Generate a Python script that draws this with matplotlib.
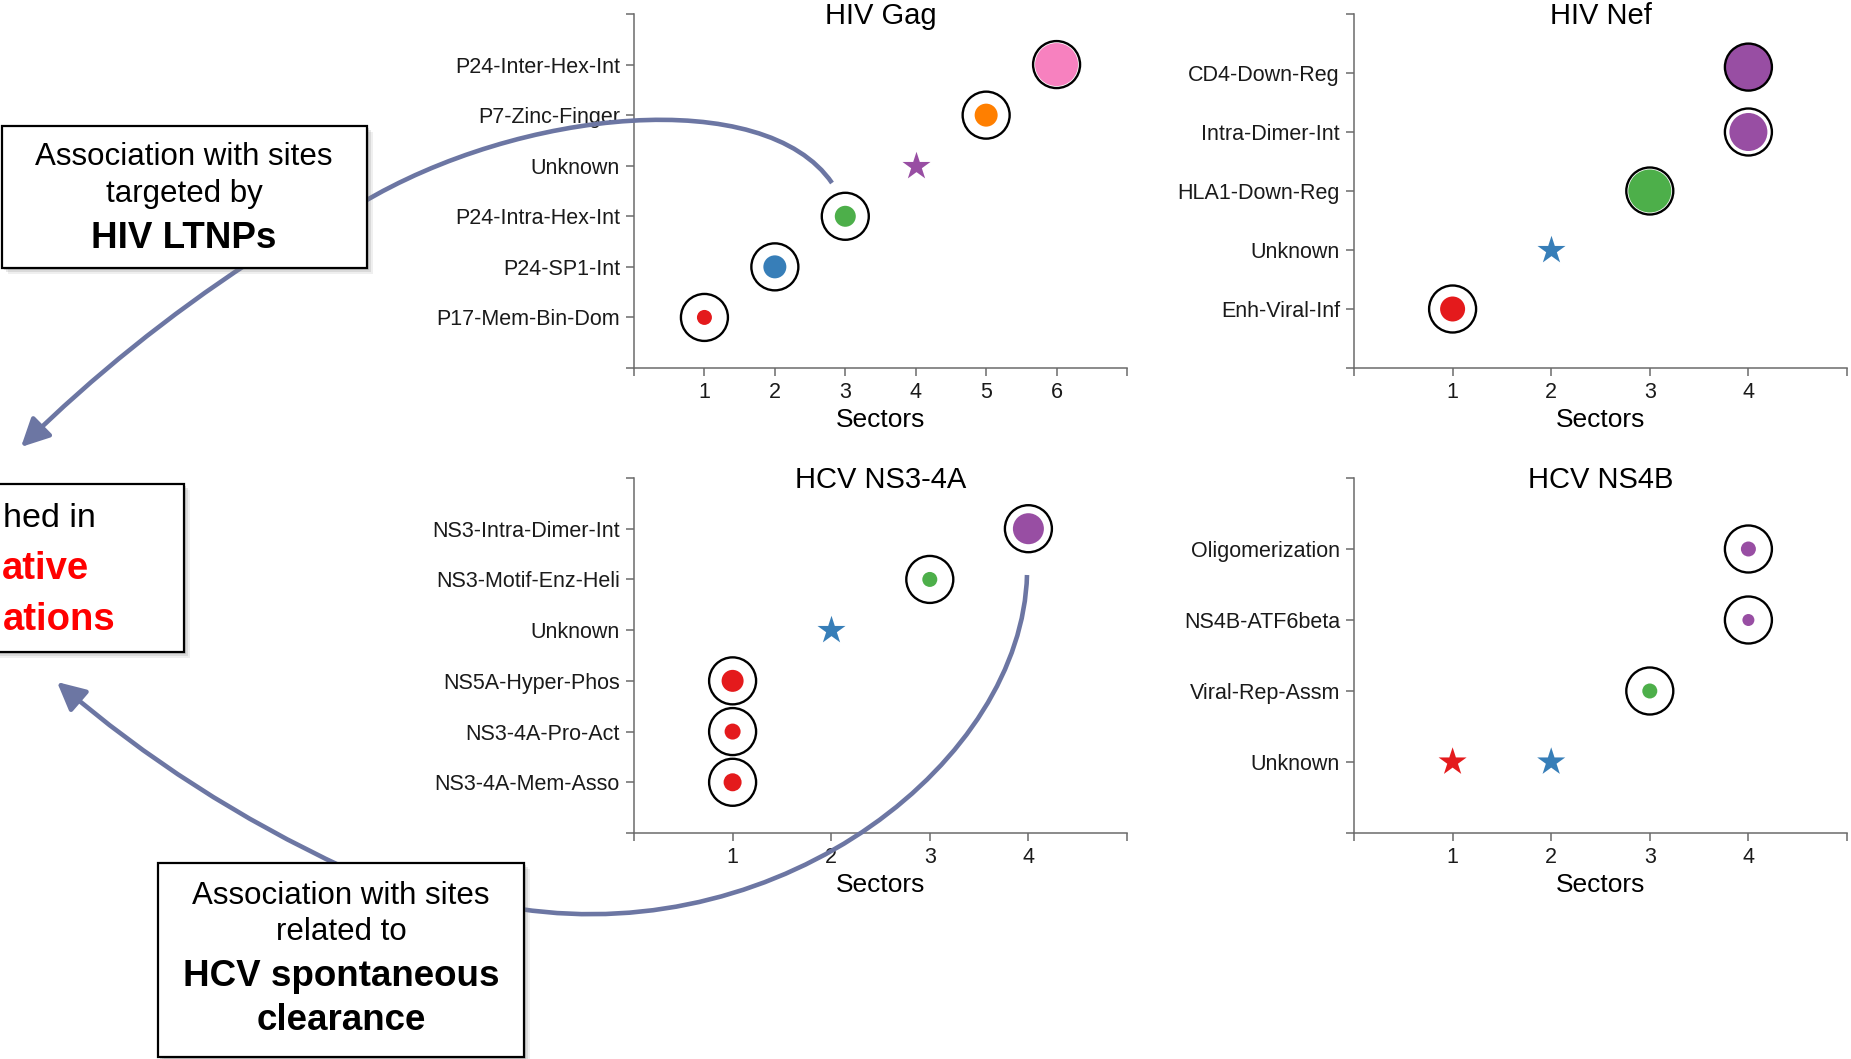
import numpy as np
import matplotlib
matplotlib.use('Agg')
import matplotlib.pyplot as plt
from matplotlib.path import Path
from matplotlib.patches import PathPatch, FancyArrowPatch, Rectangle
from matplotlib.transforms import Affine2D

plt.rcParams['font.family'] = ['Liberation Sans', 'DejaVu Sans']

# colores por sector
sector_colors = ['#e41a1c', '#377eb8', '#4daf4a', '#984ea3', '#ff7f00', '#f781bf']

# HIV Gag
gag_labels = ['P17-Mem-Bin-Dom', 'P24-SP1-Int', 'P24-Intra-Hex-Int', 'Unknown',
              'P7-Zinc-Finger', 'P24-Inter-Hex-Int']
gag_x = [1, 2, 3, 4, 5, 6]
gag_y = [1, 2, 3, 4, 5, 6]
gag_dot = [15, 23, 21, 0, 23, 43]

# HIV Nef
nef_labels = ['Enh-Viral-Inf', 'Unknown', 'HLA1-Down-Reg', 'Intra-Dimer-Int', 'CD4-Down-Reg']
nef_x = [1, 2, 3, 4, 4]
nef_y = [1, 2, 3, 4, 5.1]
nef_dot = [25, 0, 43, 38, 47]

# HCV NS3-4A
ns3_labels = ['NS3-4A-Mem-Asso', 'NS3-4A-Pro-Act', 'NS5A-Hyper-Phos', 'Unknown',
              'NS3-Motif-Enz-Heli', 'NS3-Intra-Dimer-Int']
ns3_x = [1, 1, 1, 2, 3, 4]
ns3_y = [1, 2, 3, 4, 5, 6]
ns3_dot = [18, 16, 22, 0, 15, 31]

# HCV NS4B
ns4b_labels = ['Unknown', 'Viral-Rep-Assm', 'NS4B-ATF6beta', 'Oligomerization']
ns4b_x = [1, 2, 3, 4, 4]
ns4b_y = [1, 1, 2, 3, 4]
ns4b_dot = [0, 0, 15, 12, 15]

W, H = 1851, 1059
fig = plt.figure(figsize=(W / 100, H / 100), dpi=100)
# coordenadas en pixeles (origen arriba a la izquierda)
px = Affine2D().scale(1.0 / W, -1.0 / H).translate(0, 1) + fig.transFigure

axcol = '#6b6b6b'
ring_s = (47 * 0.72) ** 2


def panel(box, title, labels, xs, ys, dots):
    l, t, r, b = box
    ax = fig.add_axes([l / W, 1 - b / H, (r - l) / W, (b - t) / H])
    nsec = max(xs)
    ax.set_xlim(0, nsec + 1)
    ax.set_ylim(0, len(labels) + 1)
    ax.set_xticks(range(0, nsec + 2))
    ax.set_xticklabels([''] + [str(i) for i in range(1, nsec + 1)] + [''])
    ax.set_yticks(range(0, len(labels) + 2))
    ax.set_yticklabels([''] + labels + [''])
    ax.spines['top'].set_visible(False)
    ax.spines['right'].set_visible(False)
    for s in ['left', 'bottom']:
        ax.spines[s].set_color(axcol)
        ax.spines[s].set_linewidth(1.1)
    ax.tick_params(length=5.8, width=1.1, color=axcol, pad=4.3,
                   labelsize=15.5, labelcolor='#1a1a1a')
    ax.patch.set_alpha(0)

    xs = np.array(xs)
    ys = np.array(ys)
    dots = np.array(dots)
    cols = np.array([sector_colors[x - 1] for x in xs])
    star = np.array([labels[int(round(y)) - 1] == 'Unknown' for y in ys])
    c = ~star
    ax.scatter(xs[c], ys[c], s=ring_s, facecolor='white', edgecolor='none',
               zorder=2, clip_on=False)
    ax.scatter(xs[c], ys[c], s=(dots[c] * 0.72) ** 2, c=cols[c], linewidths=0,
               zorder=3, clip_on=False)
    ax.scatter(xs[c], ys[c], s=ring_s, facecolor='none', edgecolor='black',
               linewidths=1.7, zorder=4, clip_on=False)
    ax.scatter(xs[star], ys[star], s=450, marker='*', c=cols[star], linewidths=0,
               zorder=3, clip_on=False)

    ax.annotate(title, xy=(0.5, 1.0), xycoords='axes fraction',
                xytext=(0, -2 * 0.72), textcoords='offset points',
                ha='center', va='center', fontsize=21)
    ax.annotate('Sectors', xy=(0.5, 0), xycoords='axes fraction',
                xytext=(0, -52 * 0.72), textcoords='offset points',
                ha='center', va='center', fontsize=19)
    return ax


panel((634, 14, 1127, 368), 'HIV Gag', gag_labels, gag_x, gag_y, gag_dot)
panel((1354, 14, 1847, 368), 'HIV Nef', nef_labels, nef_x, nef_y, nef_dot)
panel((634, 478, 1127, 833), 'HCV NS3-4A', ns3_labels, ns3_x, ns3_y, ns3_dot)
panel((1354, 478, 1847, 833), 'HCV NS4B', ns4b_labels, ns4b_x, ns4b_y, ns4b_dot)

# flechas
acol = '#6c76a3'
C4 = [Path.MOVETO, Path.CURVE4, Path.CURVE4, Path.CURVE4]
C3 = [Path.MOVETO, Path.CURVE3, Path.CURVE3]
fig.add_artist(PathPatch(Path([(360, 204), (520, 108), (765, 85), (832, 183)], C4),
                         transform=px, fill=False, edgecolor=acol, lw=3.3,
                         capstyle='butt', zorder=2))
fig.add_artist(PathPatch(Path([(1027, 575), (1022, 760), (785, 948), (520, 909)], C4),
                         transform=px, fill=False, edgecolor=acol, lw=3.3,
                         capstyle='butt', zorder=2))
for pts in [[(250, 262), (128, 342), (21, 447)],
            [(345, 868), (188, 795), (57, 682)]]:
    fig.add_artist(FancyArrowPatch(path=Path(pts, C3), transform=px,
                                   arrowstyle='-|>,head_length=1.7,head_width=0.85',
                                   mutation_scale=10, color=acol, lw=3.3, zorder=2))


# cajas de texto
def caja(l, t, r, b):
    for k, a in [(6, 0.12), (4, 0.18), (2, 0.25)]:
        fig.add_artist(Rectangle((l + k, t + k), r - l, b - t, transform=px,
                                 facecolor='#808080', edgecolor='none', alpha=a,
                                 zorder=4))
    fig.add_artist(Rectangle((l, t), r - l, b - t, transform=px,
                             facecolor='white', edgecolor='black', lw=1.6, zorder=5))


caja(2, 126, 367, 268)
caja(-60, 484, 184, 652)
caja(158, 863, 524, 1057)

fig.text(184, 165, 'Association with sites', transform=px, ha='center',
         va='baseline', fontsize=22.5, zorder=6)
fig.text(184, 202, 'targeted by', transform=px, ha='center', va='baseline',
         fontsize=22.5, zorder=6)
fig.text(184, 248, 'HIV LTNPs', transform=px, ha='center', va='baseline',
         fontsize=26.5, fontweight='bold', zorder=6)

fig.text(3, 527, 'hed in', transform=px, ha='left', va='baseline',
         fontsize=24.5, zorder=6)
fig.text(2, 579, 'ative', transform=px, ha='left', va='baseline',
         fontsize=27.5, fontweight='bold', color='#ff0000', zorder=6)
fig.text(3, 630, 'ations', transform=px, ha='left', va='baseline',
         fontsize=27.5, fontweight='bold', color='#ff0000', zorder=6)

fig.text(341, 904, 'Association with sites', transform=px, ha='center',
         va='baseline', fontsize=22.5, zorder=6)
fig.text(341, 940, 'related to', transform=px, ha='center', va='baseline',
         fontsize=22.5, zorder=6)
fig.text(341, 986, 'HCV spontaneous', transform=px, ha='center', va='baseline',
         fontsize=26.5, fontweight='bold', zorder=6)
fig.text(341, 1030, 'clearance', transform=px, ha='center', va='baseline',
         fontsize=26.5, fontweight='bold', zorder=6)

fig.savefig('out.png', dpi=100)
